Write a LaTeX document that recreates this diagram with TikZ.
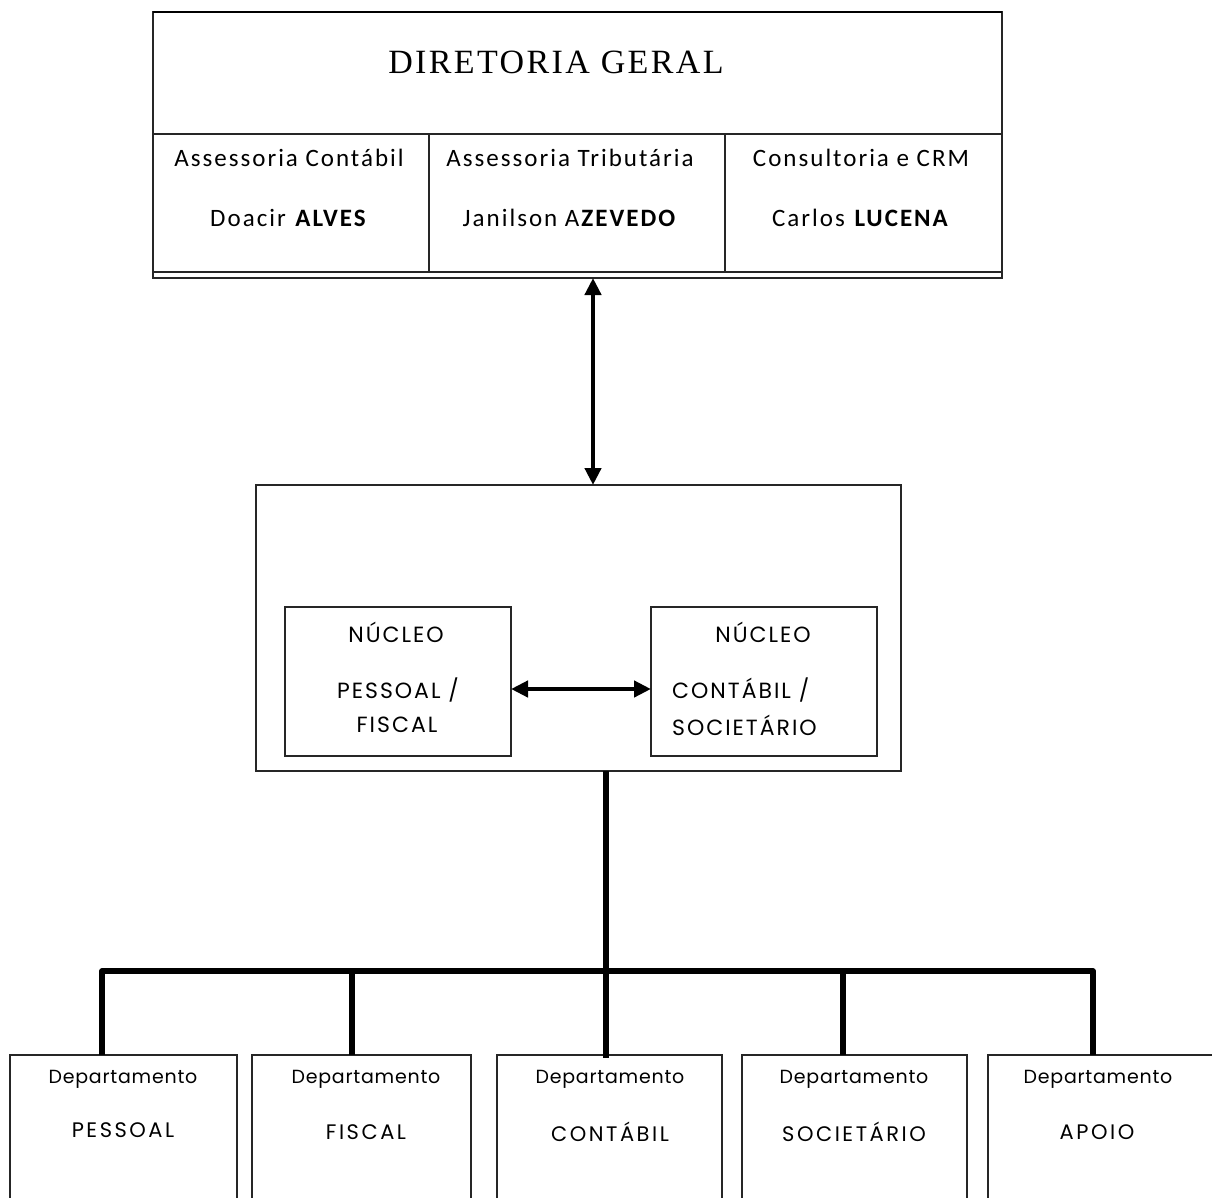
\documentclass[tikz,border=0pt]{standalone}
\usepackage{fontspec}
\setmainfont{Carlito}
\newfontfamily\calfont[LetterSpace=8]{Carlito}
\newfontfamily\geofont[LetterSpace=9]{Poppins}
\newfontfamily\geonfont[LetterSpace=12]{Poppins}
\newfontfamily\geosfont[LetterSpace=4]{Poppins}
\newfontfamily\serfont[LetterSpace=7]{Liberation Serif}
\usetikzlibrary{arrows.meta}
\begin{document}
\begin{tikzpicture}[x=1pt,y=-1pt,
  box/.style={draw=black!85, line width=1.3pt, inner sep=0pt, outer sep=0pt},
  conn/.style={draw=black, line width=5.5pt, line join=round},
  twoway/.style={draw=black, line width=4.5pt, {Triangle[length=17pt,width=16pt]}-{Triangle[length=17pt,width=16pt]}},
  ttl/.style={font=\serfont\fontsize{34}{38}\selectfont, inner sep=0pt},
  cal/.style={font=\calfont\fontsize{25}{28}\selectfont, inner sep=0pt},
  geo/.style={font=\geofont\fontsize{22}{25}\selectfont, inner sep=0pt},
  dep/.style={font=\geosfont\fontsize{19}{22}\selectfont, inner sep=0pt},
  depname/.style={font=\geonfont\fontsize{21}{24}\selectfont, inner sep=0pt},
  dbox/.style={box, minimum height=170, anchor=north west}]
\clip (0,0) rectangle (1212,1198);
\fill[white] (0,0) rectangle (1212,1198);

% top box
\node[box, minimum width=849, minimum height=266] (top) at (577.5,145) {};
\draw[line width=2.6pt] (top.north west) -- (top.north east);
\coordinate (row) at (153,134);
\coordinate (base) at (153,272);
\draw[draw=black!85, line width=1.3pt] (row) -- (row -| top.east);
\draw[draw=black!85, line width=1.3pt] (base) -- (base -| top.east);
\draw[draw=black!85, line width=1.3pt] (429,134) -- (429,272);
\draw[draw=black!85, line width=1.3pt] (725,134) -- (725,272);
\node[ttl] (dg) at (556,62) {DIRETORIA GERAL};
\node[cal] (a1) at (289,158) {Assessoria Contábil};
\node[cal] (n1) at (289,218) {Doacir \textbf{ALVES}};
\node[cal] (a2) at (570,158) {Assessoria Tributária};
\node[cal] (n2) at (570,218) {Janilson A\textbf{ZEVEDO}};
\node[cal] (a3) at (861,158) {Consultoria e CRM};
\node[cal] (n3) at (861,218) {Carlos \textbf{LUCENA}};

% middle box
\node[box, minimum width=645, minimum height=286, anchor=north west] (mid) at (256,485) {};
\node[box, minimum width=226, minimum height=149, anchor=north west] (nl) at (285,607) {};
\node[box, minimum width=226, minimum height=149, anchor=north west] (nr) at (651,607) {};
\node[geo] (nlt) at (396,632) {NÚCLEO};
\node[geo] (nl1) at (398,690) {PESSOAL /};
\node[geo] (nl2) at (397,725) {FISCAL};
\node[geo] (nrt) at (763,632) {NÚCLEO};
\node[geo, anchor=west] (nr1) at (672,690) {CONTÁBIL /};
\node[geo, anchor=west] (nr2) at (672,725) {SOCIETÁRIO};

% arrows
\draw[twoway] ([xshift=15.5pt]top.south) -- ([xshift=14.5pt]mid.north);
\draw[twoway] ([yshift=-7.5pt]nl.east) -- ([yshift=-7.5pt]nr.west);

% departments
\node[dbox, minimum width=227] (d1) at (10,1055) {};
\node[dbox, minimum width=219] (d2) at (252,1055) {};
\node[dbox, minimum width=225] (d3) at (497,1055) {};
\node[dbox, minimum width=225] (d4) at (742,1055) {};
\node[dbox, minimum width=237] (d5) at (988,1055) {};
\node[dep] (t1) at (123,1079) {Departamento};
\node[dep] (t2) at (366,1079) {Departamento};
\node[dep] (t3) at (610,1079) {Departamento};
\node[dep] (t4) at (854,1079) {Departamento};
\node[dep] (t5) at (1098,1079) {Departamento};
\node[depname] (u1) at (123,1130) {PESSOAL};
\node[depname] (u2) at (366,1132) {FISCAL};
\node[depname] (u3) at (610,1132) {CONTÁBIL};
\node[depname] (u4) at (854,1132) {SOCIETÁRIO};
\node[depname] (u5) at (1097,1132) {APOIO};

% tree connectors
\coordinate (j) at (606,971);
\draw[conn] ([xshift=27.5pt]mid.south) -- ([xshift=-3.5pt,yshift=-3pt]d3.north);
\draw[conn] ([xshift=-21.5pt]d1.north) |- (j) -| ([xshift=-13.5pt]d5.north);
\draw[conn] ([xshift=-9.5pt]d2.north) -- ([xshift=-9.5pt]d2.north |- j);
\draw[conn] ([xshift=-11.5pt]d4.north) -- ([xshift=-11.5pt]d4.north |- j);
\end{tikzpicture}
\end{document}
